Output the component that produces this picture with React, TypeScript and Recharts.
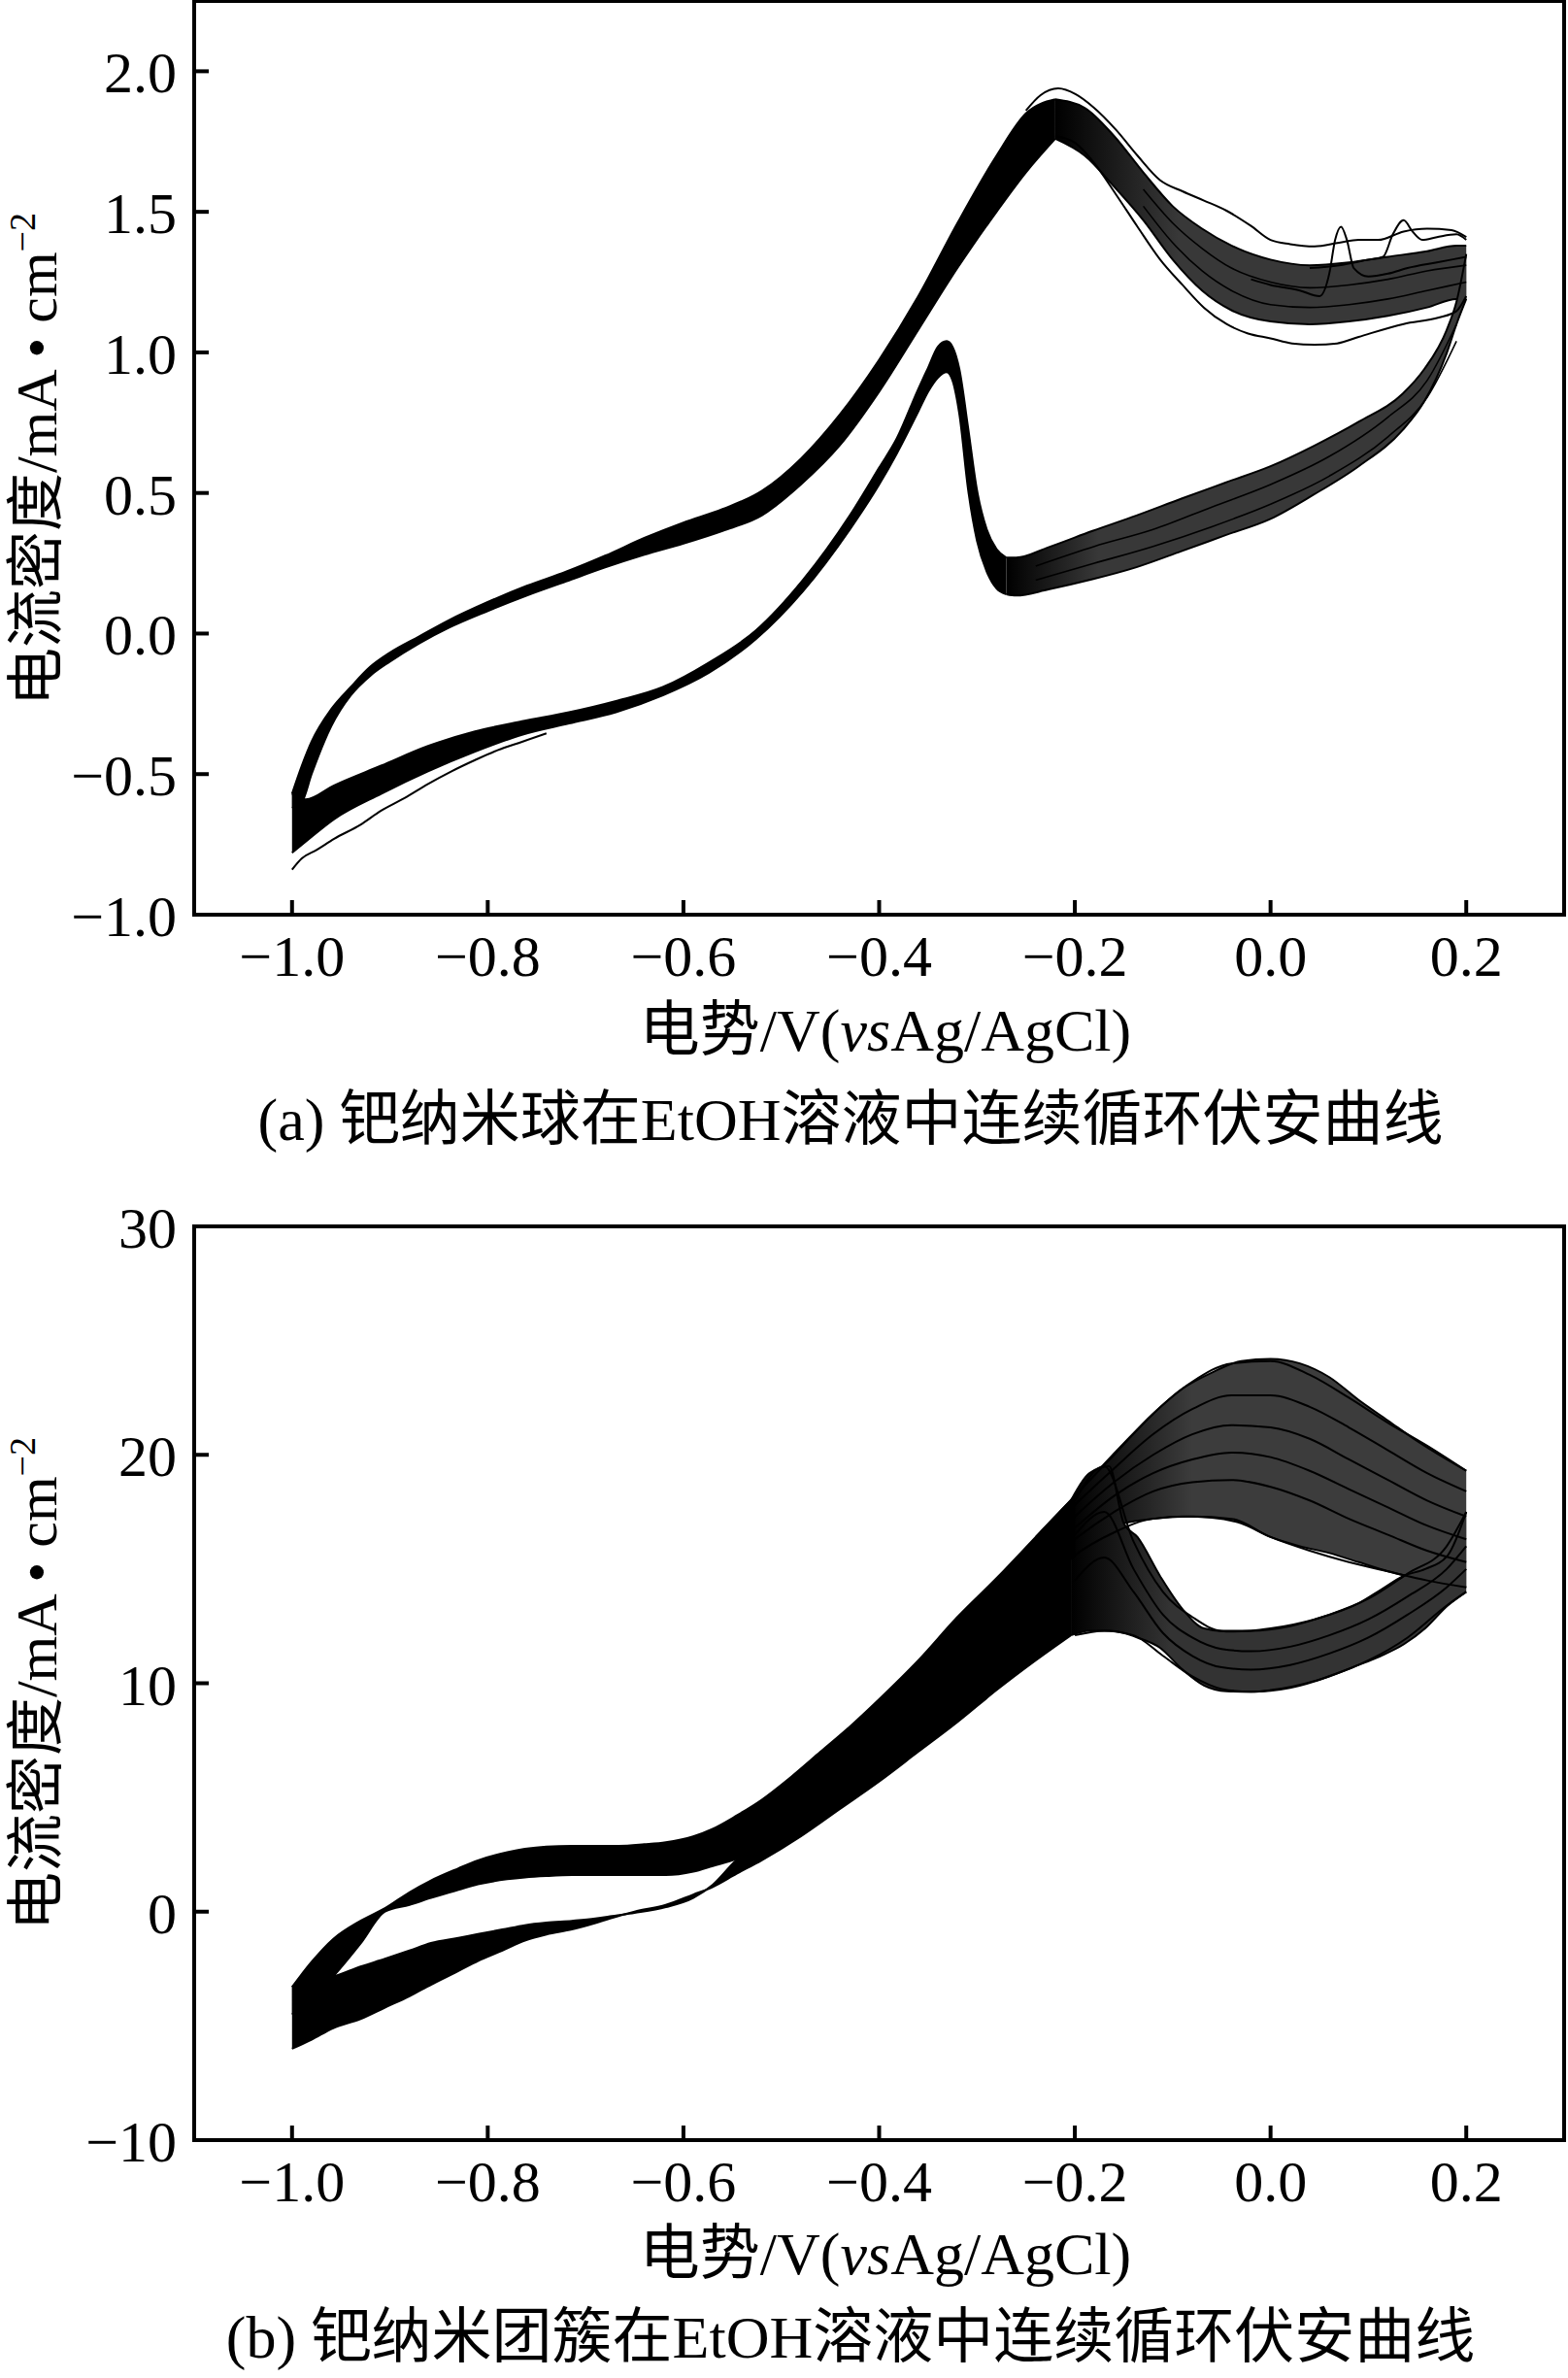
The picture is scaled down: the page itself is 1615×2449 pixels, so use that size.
import React from 'react';
import { ComposedChart, Line, Area, XAxis, YAxis, ReferenceArea } from 'recharts';

// ---------- shared axis data ----------
const xTicks = [-1.0, -0.8, -0.6, -0.4, -0.2, 0.0, 0.2];
const xTickLabels = ['−1.0', '−0.8', '−0.6', '−0.4', '−0.2', '0.0', '0.2'];
const aYTicks = [-1.0, -0.5, 0.0, 0.5, 1.0, 1.5, 2.0];
const aYTickLabels = ['−1.0', '−0.5', '0.0', '0.5', '1.0', '1.5', '2.0'];
const bYTicks = [-10, 0, 10, 20, 30];
const bYTickLabels = ['−10', '0', '10', '20', '30'];

// ---------- panel (a): Pd nanospheres ----------
// forward scan, dense band up to the main peak
const aFwdX = [-1.0, -0.99, -0.98, -0.96, -0.94, -0.92, -0.90, -0.87, -0.84, -0.80, -0.76, -0.72, -0.68, -0.64, -0.60, -0.56, -0.52, -0.48, -0.44, -0.40, -0.36, -0.32, -0.28, -0.25, -0.22];
const aFwdHi = [-0.57, -0.47, -0.384, -0.269, -0.19, -0.118, -0.068, -0.01, 0.047, 0.112, 0.17, 0.22, 0.277, 0.34, 0.395, 0.443, 0.507, 0.622, 0.78, 0.974, 1.2, 1.46, 1.70, 1.85, 1.90];
const aFwdLo = [-0.62, -0.6, -0.5, -0.33, -0.22, -0.15, -0.1, -0.035, 0.02, 0.08, 0.135, 0.185, 0.235, 0.28, 0.32, 0.365, 0.42, 0.53, 0.67, 0.86, 1.08, 1.30, 1.50, 1.64, 1.76];
// forward scan after the peak (bundle of cycles towards the vertex)
const aPkX = [-0.22, -0.19, -0.16, -0.13, -0.10, -0.07, -0.04, 0.0, 0.04, 0.08, 0.12, 0.16, 0.19, 0.2];
const aPkHi = [1.90, 1.87, 1.77, 1.64, 1.52, 1.44, 1.38, 1.33, 1.31, 1.32, 1.34, 1.36, 1.38, 1.38];
const aPkLo = [1.76, 1.70, 1.59, 1.47, 1.33, 1.22, 1.15, 1.11, 1.10, 1.11, 1.13, 1.16, 1.19, 1.19];
// backward scan, left part incl. reactivation peak
const aBwdX = [-1.0, -0.986, -0.957, -0.909, -0.861, -0.813, -0.765, -0.717, -0.669, -0.621, -0.574, -0.526, -0.478, -0.43, -0.40, -0.382, -0.36, -0.35, -0.34, -0.331, -0.325, -0.318, -0.309, -0.30, -0.29, -0.28, -0.27];
const aBwdHi = [-0.57, -0.59, -0.54, -0.47, -0.40, -0.348, -0.312, -0.28, -0.24, -0.19, -0.103, 0.011, 0.19, 0.42, 0.59, 0.694, 0.87, 0.945, 1.02, 1.04, 1.02, 0.94, 0.73, 0.51, 0.37, 0.30, 0.27];
const aBwdLo = [-0.78, -0.74, -0.66, -0.57, -0.49, -0.42, -0.36, -0.32, -0.28, -0.22, -0.14, -0.02, 0.15, 0.37, 0.53, 0.64, 0.79, 0.86, 0.91, 0.93, 0.90, 0.78, 0.51, 0.33, 0.22, 0.16, 0.14];
// backward scan, right part
const aRetX = [-0.27, -0.26, -0.227, -0.182, -0.137, -0.091, -0.046, 0.0, 0.044, 0.09, 0.135, 0.157, 0.18, 0.19, 0.2];
const aRetHi = [0.27, 0.27, 0.307, 0.365, 0.42, 0.48, 0.537, 0.595, 0.667, 0.753, 0.853, 0.94, 1.08, 1.18, 1.35];
const aRetLo = [0.14, 0.135, 0.157, 0.193, 0.236, 0.293, 0.35, 0.408, 0.494, 0.595, 0.724, 0.825, 0.997, 1.10, 1.19];
// individual visible cycles
const aTopX = [-0.25, -0.235, -0.217, -0.199, -0.181, -0.158, -0.136, -0.113, -0.09, -0.068, -0.045, -0.02, 0.0, 0.02, 0.045, 0.07, 0.09, 0.11, 0.136, 0.16, 0.185, 0.2];
const aTopY = [1.86, 1.915, 1.939, 1.918, 1.872, 1.792, 1.70, 1.613, 1.573, 1.54, 1.504, 1.45, 1.40, 1.385, 1.377, 1.39, 1.40, 1.40, 1.43, 1.44, 1.435, 1.41];
const aLowX = [-0.22, -0.2, -0.181, -0.158, -0.136, -0.113, -0.09, -0.068, -0.045, -0.023, 0.0, 0.022, 0.045, 0.068, 0.09, 0.136, 0.172, 0.19, 0.2];
const aLowY = [1.77, 1.746, 1.677, 1.562, 1.447, 1.331, 1.24, 1.159, 1.101, 1.067, 1.05, 1.032, 1.027, 1.032, 1.055, 1.101, 1.124, 1.147, 1.2];
const aMidX = [-0.13, -0.1, -0.07, -0.04, 0.0, 0.04, 0.08, 0.12, 0.16, 0.2];
const aMid1Y = [1.58, 1.46, 1.37, 1.30, 1.25, 1.23, 1.24, 1.26, 1.29, 1.31];
const aMid2Y = [1.52, 1.39, 1.29, 1.22, 1.17, 1.16, 1.17, 1.19, 1.22, 1.25];
const aSpike1X = [-0.02, 0.0, 0.03, 0.05, 0.06, 0.066, 0.072, 0.078, 0.085, 0.1, 0.12, 0.14, 0.17, 0.2];
const aSpike1Y = [1.26, 1.24, 1.22, 1.2, 1.28, 1.40, 1.447, 1.40, 1.30, 1.27, 1.28, 1.30, 1.32, 1.34];
const aSpike2X = [0.04, 0.07, 0.1, 0.115, 0.125, 0.136, 0.145, 0.155, 0.17, 0.19, 0.2];
const aSpike2Y = [1.30, 1.31, 1.33, 1.34, 1.42, 1.47, 1.43, 1.40, 1.41, 1.42, 1.40];
const aRetMidX = [-0.24, -0.18, -0.12, -0.06, 0.0, 0.06, 0.12, 0.16, 0.19];
const aRetMid1Y = [0.24, 0.31, 0.37, 0.45, 0.53, 0.63, 0.77, 0.90, 1.10];
const aRetMid2Y = [0.19, 0.25, 0.31, 0.38, 0.46, 0.56, 0.70, 0.84, 1.04];
const aBotX = [-1.0, -0.99, -0.975, -0.957, -0.93, -0.909, -0.885, -0.861, -0.837, -0.813, -0.79, -0.765, -0.74];
const aBotY = [-0.84, -0.80, -0.77, -0.73, -0.68, -0.63, -0.585, -0.535, -0.49, -0.45, -0.415, -0.385, -0.355];

// ---------- panel (b): Pd nanoclusters ----------
const bFwdX = [-1.0, -0.98, -0.958, -0.93, -0.905, -0.88, -0.858, -0.83, -0.81, -0.78, -0.762, -0.74, -0.714, -0.69, -0.666, -0.64, -0.618, -0.59, -0.57, -0.546, -0.52, -0.49, -0.46, -0.43, -0.40, -0.36, -0.32, -0.28, -0.24, -0.20];
const bFwdHi = [-3.3, -2.2, -1.2, -0.4, 0.15, 0.85, 1.37, 1.9, 2.25, 2.6, 2.75, 2.85, 2.88, 2.88, 2.88, 2.95, 3.04, 3.3, 3.63, 4.2, 4.9, 5.9, 7.0, 8.1, 9.3, 11.0, 12.9, 14.6, 16.4, 18.2];
const bFwdLo = [-4.5, -3.8, -2.84, -1.4, 0.0, 0.3, 0.6, 0.95, 1.2, 1.42, 1.5, 1.56, 1.6, 1.6, 1.6, 1.6, 1.6, 1.75, 2.0, 2.3, 2.8, 3.5, 4.4, 5.5, 6.6, 8.3, 10.3, 12.2, 14.0, 15.6];
const bHumpX = [-0.2, -0.17, -0.15, -0.12, -0.09, -0.06, -0.03, 0.0, 0.03, 0.06, 0.09, 0.12, 0.15, 0.18, 0.2];
const bHumpHi = [18.2, 19.6, 20.5, 21.8, 22.9, 23.6, 24.1, 24.2, 24.0, 23.4, 22.4, 21.5, 20.6, 19.8, 19.3];
const bHumpLo = [15.6, 16.7, 17.0, 17.2, 17.3, 17.25, 17.0, 16.4, 16.0, 15.7, 15.3, 14.9, 14.6, 14.35, 14.2];
const bBwdX = [-1.0, -0.98, -0.958, -0.93, -0.905, -0.88, -0.858, -0.83, -0.81, -0.785, -0.762, -0.74, -0.714, -0.69, -0.675, -0.65, -0.618, -0.59, -0.57, -0.546, -0.52, -0.48, -0.44, -0.40, -0.36, -0.32, -0.28, -0.24, -0.204];
const bBwdHi = [-3.3, -3.0, -2.84, -2.4, -2.06, -1.7, -1.37, -1.15, -0.98, -0.78, -0.59, -0.48, -0.4, -0.3, -0.2, -0.05, 0.2, 0.6, 1.18, 2.25, 3.0, 4.3, 6.0, 7.8, 9.8, 11.8, 13.9, 16.0, 18.0];
const bBwdLo = [-6.0, -5.6, -5.1, -4.7, -4.2, -3.7, -3.2, -2.6, -2.16, -1.7, -1.27, -1.0, -0.78, -0.5, -0.3, 0.0, 0.3, 0.75, 1.08, 1.65, 2.25, 3.3, 4.5, 5.7, 7.0, 8.3, 9.7, 11.0, 12.1];
const bRetX = [-0.204, -0.185, -0.165, -0.15, -0.136, -0.113, -0.09, -0.068, -0.045, -0.02, 0.0, 0.045, 0.09, 0.113, 0.136, 0.158, 0.181, 0.2];
const bRetHi = [18.0, 19.2, 19.5, 17.0, 16.4, 14.7, 13.25, 12.4, 12.26, 12.3, 12.4, 12.8, 13.5, 14.1, 14.7, 15.0, 15.6, 17.5];
const bRetLo = [12.1, 12.3, 12.3, 12.2, 12.0, 11.55, 10.6, 9.9, 9.65, 9.63, 9.7, 10.1, 10.8, 11.2, 11.7, 12.4, 13.4, 14.0];
// individual forward cycles in the upper hump
const bCycX = [-0.24, -0.2, -0.16, -0.12, -0.08, -0.04, 0.0, 0.04, 0.08, 0.12, 0.16, 0.2];
const bCyc1 = [16.4, 18.2, 20.0, 21.8, 23.2, 24.0, 24.1, 23.5, 22.5, 21.4, 20.4, 19.3];
const bCyc2 = [16.0, 17.8, 19.4, 20.9, 22.0, 22.6, 22.6, 22.1, 21.2, 20.2, 19.2, 18.4];
const bCyc3 = [15.6, 17.3, 18.8, 20.0, 20.9, 21.3, 21.2, 20.7, 19.8, 18.9, 18.0, 17.3];
const bCyc4 = [15.2, 16.8, 18.2, 19.2, 19.8, 20.1, 19.9, 19.3, 18.5, 17.7, 16.9, 16.3];
const bCyc5 = [14.8, 16.3, 17.5, 18.4, 18.8, 18.9, 18.6, 18.0, 17.2, 16.5, 15.8, 15.3];
const bCyc6 = [14.0, 15.6, 16.6, 17.2, 17.3, 17.2, 16.4, 15.8, 15.3, 14.9, 14.5, 14.2];
// individual backward cycles in the lower loop
const bRcX = [-0.2, -0.17, -0.14, -0.11, -0.08, -0.05, -0.02, 0.02, 0.06, 0.1, 0.14, 0.18, 0.2];
const bRc1 = [18.0, 19.5, 16.2, 14.0, 12.9, 12.3, 12.3, 12.5, 13.0, 13.7, 14.8, 16.0, 17.5];
const bRc2 = [16.5, 17.5, 15.0, 13.0, 12.0, 11.5, 11.4, 11.6, 12.1, 12.8, 13.8, 15.0, 16.0];
const bRc3 = [14.5, 15.5, 14.0, 12.2, 11.2, 10.7, 10.6, 10.8, 11.3, 12.0, 13.0, 14.2, 15.0];
const bRc4 = [12.1, 12.3, 12.1, 11.2, 10.3, 9.75, 9.63, 9.8, 10.3, 11.0, 12.0, 13.4, 14.0];

// ---------- helpers ----------
const band = (xs: number[], lo: number[], hi: number[]) => xs.map((x, i) => ({ x, r: [lo[i], hi[i]] }));
const pts = (xs: number[], ys: number[]) => xs.map((x, i) => ({ x, y: ys[i] }));

const FONT = '"Liberation Serif", "Times New Roman", "Noto Sans CJK SC", serif';
const W = 1615;
const H = 1070;
const M_TOP = 41;
const X_AXIS_H = 88;
const PLOT_LEFT = 200;
const PLOT_BOTTOM = H - X_AXIS_H; // 982 in chart coordinates
const TICK = 15;

const findLabel = (ticks: number[], labels: string[], v: number) => {
  const i = ticks.findIndex((t) => Math.abs(t - v) < 1e-9);
  return i >= 0 ? labels[i] : String(v);
};

const makeXTick = () => (props: any) => {
  const { x, payload } = props;
  return (
    <g>
      <line x1={x} x2={x} y1={PLOT_BOTTOM} y2={PLOT_BOTTOM - TICK} stroke="#000" strokeWidth={4} />
      <text x={x} y={PLOT_BOTTOM + 63} textAnchor="middle" fontSize={60} fontFamily={FONT} fill="#000">
        {findLabel(xTicks, xTickLabels, payload.value)}
      </text>
    </g>
  );
};

const makeYTick = (ticks: number[], labels: string[]) => (props: any) => {
  const { y, payload } = props;
  return (
    <g>
      <line x1={PLOT_LEFT} x2={PLOT_LEFT + TICK} y1={y} y2={y} stroke="#000" strokeWidth={4} />
      <text x={182} y={y + 22} textAnchor="end" fontSize={60} fontFamily={FONT} fill="#000">
        {findLabel(ticks, labels, payload.value)}
      </text>
    </g>
  );
};

type BandSpec = { data: any[]; fill: string };
type LineSpec = { data: any[]; w?: number };

function Panel(props: {
  top: number;
  yDomain: [number, number];
  yTicks: number[];
  yLabels: string[];
  fills: BandSpec[];
  lines: LineSpec[];
}) {
  const { top, yDomain, yTicks, yLabels, fills, lines } = props;
  return (
    <div style={{ position: 'absolute', left: 0, top: top - (M_TOP - 1) }}>
      <ComposedChart width={W} height={H} margin={{ top: M_TOP, right: 4, bottom: 0, left: 0 }}>
        <XAxis
          type="number"
          dataKey="x"
          domain={[-1.1, 0.3]}
          ticks={xTicks}
          interval={0}
          allowDataOverflow
          height={X_AXIS_H}
          axisLine={{ stroke: '#000', strokeWidth: 4 }}
          tickLine={false}
          tick={makeXTick()}
        />
        <YAxis
          type="number"
          domain={yDomain}
          ticks={yTicks}
          interval={0}
          allowDataOverflow
          width={200}
          axisLine={{ stroke: '#000', strokeWidth: 4 }}
          tickLine={false}
          tick={makeYTick(yTicks, yLabels)}
        />
        {fills.map((b, i) => (
          <Area
            key={'f' + i}
            data={b.data}
            dataKey="r"
            type="monotone"
            fill={b.fill}
            fillOpacity={1}
            stroke="#000"
            strokeWidth={2}
            dot={false}
            activeDot={false}
            isAnimationActive={false}
          />
        ))}
        {lines.map((l, i) => (
          <Line
            key={'l' + i}
            data={l.data}
            dataKey="y"
            type="monotone"
            stroke="#000"
            strokeWidth={l.w ?? 2}
            dot={false}
            activeDot={false}
            isAnimationActive={false}
          />
        ))}
        <ReferenceArea
          x1={-1.1}
          x2={0.3}
          y1={yDomain[0]}
          y2={yDomain[1]}
          fill="none"
          fillOpacity={0}
          stroke="#000"
          strokeWidth={4}
          ifOverflow="visible"
        />
      </ComposedChart>
    </div>
  );
}

const aFills: BandSpec[] = [
  { data: band(aPkX, aPkLo, aPkHi), fill: 'url(#gradAPk)' },
  { data: band(aRetX, aRetLo, aRetHi), fill: 'url(#gradARet)' },
  { data: band(aFwdX, aFwdLo, aFwdHi), fill: '#000' },
  { data: band(aBwdX, aBwdLo, aBwdHi), fill: '#000' },
];
const aLines: LineSpec[] = [
  { data: pts(aMidX, aMid1Y), w: 1.6 },
  { data: pts(aMidX, aMid2Y), w: 1.6 },
  { data: pts(aRetMidX, aRetMid1Y), w: 1.6 },
  { data: pts(aRetMidX, aRetMid2Y), w: 1.6 },
  { data: pts(aTopX, aTopY) },
  { data: pts(aLowX, aLowY) },
  { data: pts(aSpike1X, aSpike1Y) },
  { data: pts(aSpike2X, aSpike2Y) },
  { data: pts(aBotX, aBotY) },
];

const bFills: BandSpec[] = [
  { data: band(bHumpX, bHumpLo, bHumpHi), fill: 'url(#gradBHump)' },
  { data: band(bRetX, bRetLo, bRetHi), fill: 'url(#gradBRet)' },
  { data: band(bFwdX, bFwdLo, bFwdHi), fill: '#000' },
  { data: band(bBwdX, bBwdLo, bBwdHi), fill: '#000' },
];
const bLines: LineSpec[] = [
  { data: pts(bCycX, bCyc1) },
  { data: pts(bCycX, bCyc2) },
  { data: pts(bCycX, bCyc3) },
  { data: pts(bCycX, bCyc4) },
  { data: pts(bCycX, bCyc5) },
  { data: pts(bCycX, bCyc6) },
  { data: pts(bRcX, bRc1) },
  { data: pts(bRcX, bRc2) },
  { data: pts(bRcX, bRc3) },
  { data: pts(bRcX, bRc4) },
];

const Grad = ({ id, dark, to, stop }: { id: string; dark: string; to: string; stop: number }) => (
  <linearGradient id={id} x1="0" y1="0" x2="1" y2="0">
    <stop offset="0" stopColor={dark} />
    <stop offset={stop} stopColor={to} />
    <stop offset="1" stopColor={to} />
  </linearGradient>
);

const YLabel = ({ cy }: { cy: number }) => (
  <text transform={`translate(58, ${cy}) rotate(-90)`} textAnchor="middle" fontSize={60} fontFamily={FONT} fill="#000">
    电流密度/mA • cm<tspan dy={-22} fontSize={38}>−2</tspan>
  </text>
);

const XLabel = ({ y }: { y: number }) => (
  <text x={912} y={y} textAnchor="middle" fontSize={62} fontFamily={FONT} fill="#000">
    电势/V(<tspan fontStyle="italic">vs</tspan>Ag/AgCl)
  </text>
);

export default function App() {
  return (
    <div style={{ position: 'relative', width: W, height: 2449, background: '#fff', fontFamily: FONT, overflow: 'hidden' }}>
      <style>{'body{margin:0;background:#fff;}'}</style>
      <svg width={0} height={0} style={{ position: 'absolute' }}>
        <defs>
          <Grad id="gradAPk" dark="#000" to="#383838" stop={0.3} />
          <Grad id="gradARet" dark="#000" to="#383838" stop={0.2} />
          <Grad id="gradBHump" dark="#000" to="#3c3c3c" stop={0.3} />
          <Grad id="gradBRet" dark="#000" to="#333333" stop={0.25} />
        </defs>
      </svg>
      <Panel top={0} yDomain={[-1, 2.25]} yTicks={aYTicks} yLabels={aYTickLabels} fills={aFills} lines={aLines} />
      <Panel top={1262} yDomain={[-10, 30]} yTicks={bYTicks} yLabels={bYTickLabels} fills={bFills} lines={bLines} />
      <svg width={W} height={2449} style={{ position: 'absolute', left: 0, top: 0, pointerEvents: 'none' }}>
        <YLabel cy={473} />
        <XLabel y={1082} />
        <text x={876} y={1174} textAnchor="middle" fontSize={62} fontFamily={FONT} fill="#000">
          (a) 钯纳米球在EtOH溶液中连续循环伏安曲线
        </text>
        <YLabel cy={1734} />
        <XLabel y={2342} />
        <text x={876} y={2428} textAnchor="middle" fontSize={62} fontFamily={FONT} fill="#000">
          (b) 钯纳米团簇在EtOH溶液中连续循环伏安曲线
        </text>
      </svg>
    </div>
  );
}
